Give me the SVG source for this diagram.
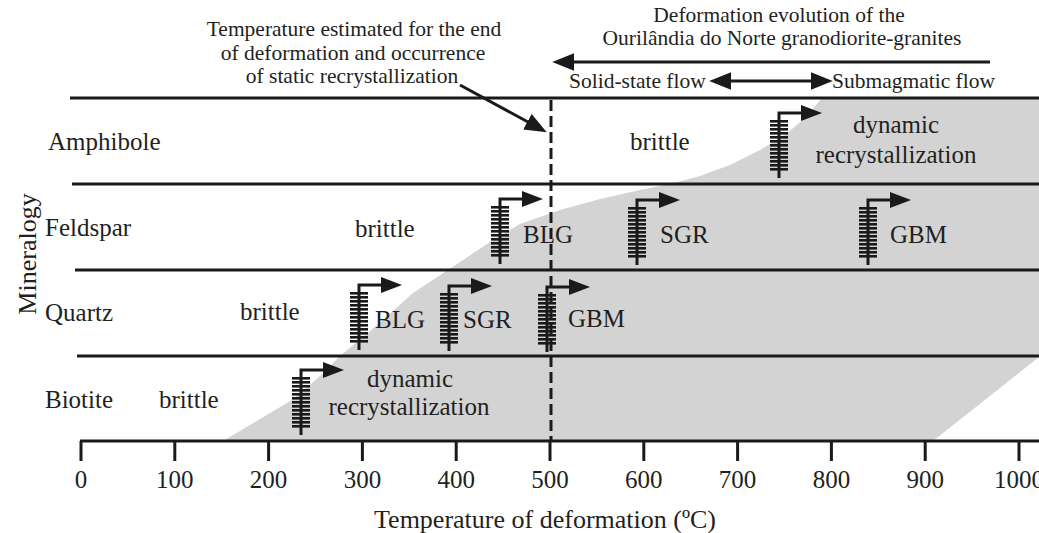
<svg xmlns="http://www.w3.org/2000/svg" width="1039" height="533" viewBox="0 0 1039 533">
<style>
text{font-family:"Liberation Serif","Times New Roman",serif;fill:#231f20}
.lbl{font-size:25px}
.sm{font-size:21.5px}
.rule{stroke:#1a1a1a;stroke-width:3;fill:none}
.conn{stroke:#1a1a1a;stroke-width:3;fill:none}
</style>
<defs>
<marker id="ah" markerUnits="userSpaceOnUse" markerWidth="22" markerHeight="18" viewBox="0 0 20 16" refX="12" refY="8" orient="auto-start-reverse">
<path d="M0,0 L20,8 L0,16 z" fill="#1a1a1a"/>
</marker>
<g id="comb">
<path d="M0,65 V0 H25" fill="none" stroke="#1a1a1a" stroke-width="3"/>
<polygon points="22,-8 43,0 22,8" fill="#1a1a1a"/>
<g fill="#1a1a1a">
<rect x="-9" y="7" width="18" height="2.6"/>
<rect x="-9" y="11" width="18" height="2.6"/>
<rect x="-9" y="15" width="18" height="2.6"/>
<rect x="-9" y="19" width="18" height="2.6"/>
<rect x="-9" y="23" width="18" height="2.6"/>
<rect x="-9" y="27" width="18" height="2.6"/>
<rect x="-9" y="31" width="18" height="2.6"/>
<rect x="-9" y="35" width="18" height="2.6"/>
<rect x="-9" y="39" width="18" height="2.6"/>
<rect x="-9" y="43" width="18" height="2.6"/>
<rect x="-9" y="47" width="18" height="2.6"/>
<rect x="-9" y="51" width="18" height="2.6"/>
<rect x="-9" y="55" width="18" height="2.6"/>
</g>
</g>
</defs>
<rect width="1039" height="533" fill="#fff"/>
<polygon id="ductile-field" fill="#d3d3d3" points="223,441 255,422 292,400 318,378 340,356 375,327 413,293 460,262 490,242 520,224 560,210 600,199 640,190 670,184 700,176 730,165 760,150 785,135 805,118 822,98 1039,98 1039,357 933,441"/>
<g id="rows">
<line class="rule" x1="70" y1="98" x2="1039" y2="98"/>
<line class="rule" x1="72" y1="184" x2="1039" y2="184"/>
<line class="rule" x1="75" y1="270" x2="1039" y2="270"/>
<line class="rule" x1="77" y1="356" x2="1039" y2="356"/>
</g>
<g id="axis">
<line class="rule" x1="80" y1="441" x2="1039" y2="441"/>
<g class="rule">
<line x1="81" y1="441" x2="81" y2="461"/>
<line x1="174.8" y1="441" x2="174.8" y2="461"/>
<line x1="268.6" y1="441" x2="268.6" y2="461"/>
<line x1="362.4" y1="441" x2="362.4" y2="461"/>
<line x1="456.2" y1="441" x2="456.2" y2="461"/>
<line x1="550" y1="441" x2="550" y2="461"/>
<line x1="643.8" y1="441" x2="643.8" y2="461"/>
<line x1="737.6" y1="441" x2="737.6" y2="461"/>
<line x1="831.4" y1="441" x2="831.4" y2="461"/>
<line x1="925.2" y1="441" x2="925.2" y2="461"/>
<line x1="1019" y1="441" x2="1019" y2="461"/>
</g>
<g class="lbl" text-anchor="middle">
<text x="81" y="488">0</text>
<text x="174.8" y="488">100</text>
<text x="268.6" y="488">200</text>
<text x="362.4" y="488">300</text>
<text x="456.2" y="488">400</text>
<text x="550" y="488">500</text>
<text x="643.8" y="488">600</text>
<text x="737.6" y="488">700</text>
<text x="831.4" y="488">800</text>
<text x="925.2" y="488">900</text>
<text x="1019" y="488">1000</text>
</g>
<text x="545" y="528" text-anchor="middle" font-size="26">Temperature of deformation (ºC)</text>
<text transform="translate(36,254) rotate(-90)" text-anchor="middle" font-size="26">Mineralogy</text>
</g>
<g id="amphibole">
<text class="lbl" x="48" y="150">Amphibole</text>
<text class="lbl" x="630" y="150">brittle</text>
<use href="#comb" x="779" y="113"/>
<text class="lbl" x="896" y="133" text-anchor="middle">dynamic</text>
<text class="lbl" x="896" y="163" text-anchor="middle">recrystallization</text>
</g>
<g id="feldspar">
<text class="lbl" x="45" y="236">Feldspar</text>
<text class="lbl" x="355" y="237">brittle</text>
<use href="#comb" x="500" y="199"/>
<text class="lbl" x="523" y="243">BLG</text>
<use href="#comb" x="637" y="200"/>
<text class="lbl" x="660" y="243">SGR</text>
<use href="#comb" x="868" y="200"/>
<text class="lbl" x="890" y="243">GBM</text>
</g>
<g id="quartz">
<text class="lbl" x="45" y="321">Quartz</text>
<text class="lbl" x="240" y="320">brittle</text>
<use href="#comb" x="359" y="285"/>
<text class="lbl" x="375" y="328">BLG</text>
<use href="#comb" x="449" y="286"/>
<text class="lbl" x="463" y="328">SGR</text>
<use href="#comb" x="547" y="287"/>
<text class="lbl" x="568" y="327">GBM</text>
</g>
<g id="biotite">
<text class="lbl" x="45" y="408">Biotite</text>
<text class="lbl" x="159" y="408">brittle</text>
<use href="#comb" x="301" y="370"/>
<text class="lbl" x="410" y="387" text-anchor="middle">dynamic</text>
<text class="lbl" x="409" y="415" text-anchor="middle">recrystallization</text>
</g>
<g id="annotation-static">
<text class="sm" x="354" y="36" text-anchor="middle">Temperature estimated for the end</text>
<text class="sm" x="353" y="60" text-anchor="middle">of deformation and occurrence</text>
<text class="sm" x="352" y="83" text-anchor="middle">of static recrystallization</text>
</g>
<g id="annotation-evolution">
<text class="sm" x="779" y="22" text-anchor="middle">Deformation evolution of the</text>
<text class="sm" x="782" y="45" text-anchor="middle">Ourilândia do Norte granodiorite-granites</text>
<text class="sm" x="569" y="88">Solid-state flow</text>
<text class="sm" x="832" y="88">Submagmatic flow</text>
</g>
<g id="connectors">
<line x1="551" y1="100" x2="551" y2="441" stroke="#1a1a1a" stroke-width="3" stroke-dasharray="11 5"/>
<line class="conn" x1="460" y1="85" x2="539" y2="128" marker-end="url(#ah)"/>
<line class="conn" x1="990" y1="62" x2="561" y2="62" marker-end="url(#ah)"/>
<line class="conn" x1="718" y1="81" x2="824" y2="81" marker-start="url(#ah)" marker-end="url(#ah)"/>
</g>
</svg>
